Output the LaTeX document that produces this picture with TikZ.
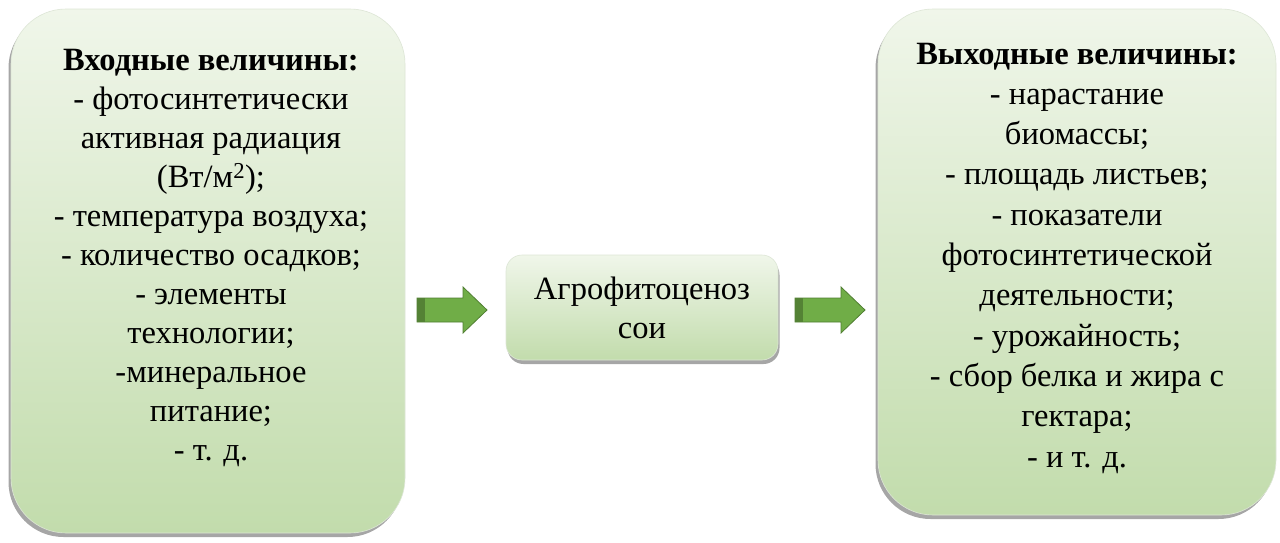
\documentclass[tikz,border=0pt]{standalone}
\usepackage{fontspec}
\setmainfont{LiberationSerif-Regular.ttf}[BoldFont=LiberationSerif-Bold.ttf]
\usetikzlibrary{shadows}
\definecolor{boxtop}{HTML}{F0F6EA}
\definecolor{boxbot}{HTML}{C2DCAC}
\definecolor{boxedge}{HTML}{DDE6D6}
\definecolor{arrowfill}{HTML}{70AD47}
\definecolor{arrowedge}{HTML}{507E32}
\definecolor{arrowdark}{HTML}{548235}
\begin{document}
\begin{tikzpicture}[x=1pt,y=-1pt,
  bigbox/.style={rounded corners=55pt, top color=boxtop, bottom color=boxbot,
    draw=boxedge, line width=0.6pt,
    drop shadow={shadow xshift=-2.5pt, shadow yshift=-4pt, fill=black, opacity=0.35}},
  midbox/.style={rounded corners=16pt, top color=boxtop, bottom color=boxbot,
    draw=boxedge, line width=0.6pt,
    drop shadow={shadow xshift=1.5pt, shadow yshift=-4pt, fill=black, opacity=0.35}},
  txtA/.style={font=\fontsize{32.5}{39}\selectfont, align=center, inner sep=0pt},
  txtB/.style={font=\fontsize{32.5}{40.3}\selectfont, align=center, inner sep=0pt},
  blockarrow/.style={fill=arrowfill, draw=arrowedge, line width=0.8pt, line join=miter},
  arrowstrip/.style={fill=arrowdark}
]
\useasboundingbox[fill=white] (0,0) rectangle (1280,542);

% boxes
\node[bigbox, minimum width=394pt, minimum height=524pt] (inbox) at (208,271) {};
\node[bigbox, minimum width=398pt, minimum height=506pt] (outbox) at (1077,262) {};
\node[midbox, minimum width=272pt, minimum height=105pt] (mid) at (642,307.5) {};

% texts
\node[txtA] (intext) at (211,258) {\textbf{Входные величины:}\\
- фотосинтетически\\
активная радиация\\
(Вт/м\textsuperscript{2});\\
- температура воздуха;\\
- количество осадков;\\
- элементы\\
технологии;\\
-минеральное\\
питание;\\
- т. д.};
\node[txtB] (outtext) at (1077,258) {\textbf{Выходные величины:}\\
- нарастание\\
биомассы;\\
- площадь листьев;\\
- показатели\\
фотосинтетической\\
деятельности;\\
- урожайность;\\
- сбор белка и жира с\\
гектара;\\
- и т. д.};
\node[txtA] (midtext) at (642,308) {Агрофитоценоз\\сои};

% block arrows
\coordinate (a1) at (417,310);
\coordinate (a2) at (795,310);
\foreach \c in {a1,a2}{
  \draw[blockarrow, shift={(\c)}] (0,-12) -- (46,-12) -- (46,-23) -- (70,0) -- (46,23) -- (46,12) -- (0,12) -- cycle;
  \fill[arrowstrip, shift={(\c)}] (0.4,-11.6) rectangle (8,11.6);
}
\end{tikzpicture}
\end{document}
